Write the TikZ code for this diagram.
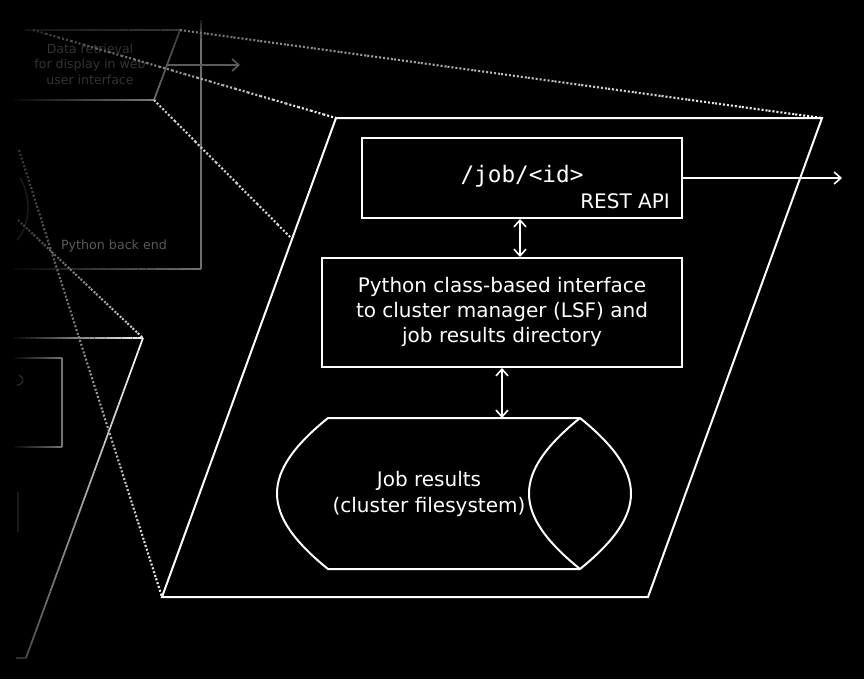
\documentclass[tikz,border=0pt]{standalone}
\usepackage{fontspec}
\setmainfont{DejaVu Sans}
\newfontfamily\monof{DejaVu Sans Mono}
\usetikzlibrary{calc,arrows.meta}

% gradient line: style, from, to, start % white, end % white
\newcommand{\gradline}[5]{%
  \foreach \k in {0,...,23}{%
    \pgfmathsetmacro\ta{\k/24}%
    \pgfmathsetmacro\tb{(\k+1)/24}%
    \pgfmathtruncatemacro\gg{#4+(#5-#4)*(\k+0.5)/24}%
    \draw[#1,draw=white!\gg!black] ($#2!\ta!#3$) -- ($#2!\tb!#3$);
  }}

\tikzset{
  mainline/.style={draw=white, line width=1.5pt},
  boxnode/.style={draw=white, line width=1.5pt, fill=black, text=white, inner sep=0pt},
  dotl/.style={line width=1.6pt, dash pattern=on 1.5pt off 1.5pt},
  faint/.style={line width=1.3pt},
  dblarr/.style={draw=white, line width=1.2pt, {Straight Barb[length=5pt,width=9pt]}-{Straight Barb[length=5pt,width=9pt]}},
  sglarr/.style={draw=white, line width=1.2pt, -{Straight Barb[length=5pt,width=9pt]}},
  txt/.style={text=white, inner sep=0pt, align=center},
}

\begin{document}
\begin{tikzpicture}[x=0.75pt, y=-0.75pt]
\fill[black] (0,0) rectangle (864,679);
\useasboundingbox (0,0) rectangle (864,679);

% ---------- faded previous level (Python back end) ----------
\gradline{faint}{(201,20)}{(201,40)}{10}{43}
\draw[faint, draw=white!43!black] (201,40) -- (201,269);
\gradline{faint}{(14,269)}{(201,269)}{3}{45}
\node[txt, text=white!35!black, font=\fontsize{9.5}{11.6}\selectfont] (pbe) at (114,246) {Python back end};

% small parallelogram with faded text
\gradline{faint}{(25,30)}{(180,30)}{8}{22}
\gradline{faint}{(180,30)}{(154,100)}{25}{45}
\gradline{faint}{(14,100)}{(154,100)}{3}{48}
\node[txt, text=white!20!black, font=\fontsize{9.4}{11.6}\selectfont] (dr) at (90,64) {Data retrieval\\for display in web\\user interface};
\coordinate (sarrs) at (166,65);
\coordinate (sarre) at (240,65);
\draw[line width=1.2pt, draw=white!36!black, -{Straight Barb[length=5pt,width=9pt]}] (sarrs) -- (sarre);

% faint arc (cylinder end of previous level)
\draw[line width=1.2pt, draw=white!10!black] (20,178) .. controls (31,195) and (31,225) .. (17,240);

% left parallelogram (previous level of big one)
\gradline{faint}{(14,338)}{(143,338)}{3}{100}
\gradline{faint}{(143,338)}{(26,658)}{100}{30}
\draw[faint, draw=white!18!black] (16,658) -- (26,658);
% inner small box
\gradline{faint}{(14,358)}{(62,358)}{3}{45}
\draw[faint, draw=white!45!black] (62,358) -- (62,447);
\gradline{faint}{(14,447)}{(62,447)}{3}{45}
\draw[line width=1.2pt, draw=white!14!black] (17,385) arc[start angle=100, end angle=-80, radius=5];
\draw[line width=1.2pt, draw=white!10!black] (18,492) -- (18,532);

% ---------- dotted zoom lines ----------
\gradline{dotl}{(180,30)}{(822,118)}{45}{100}
\gradline{dotl}{(33,30)}{(336,118)}{20}{100}
\gradline{dotl}{(154,100)}{(648,597)}{80}{100}
\gradline{dotl}{(19,150)}{(162,597)}{20}{95}
\gradline{dotl}{(18,220)}{(143,338)}{20}{85}

% ---------- big parallelogram ----------
\coordinate (p1) at (336,118);
\coordinate (p2) at (822,118);
\coordinate (p3) at (648,597);
\coordinate (p4) at (162,597);
\draw[mainline, fill=black, line join=miter] (p1) -- (p2) -- (p3) -- (p4) -- cycle;

% REST API box
\node[boxnode, minimum width=240pt, minimum height=60pt] (rest) at (522,178) {};
\node[txt, font=\monof\fontsize{17}{20}\selectfont] (jobid) at (522,176) {/job/<id>};
\node[txt, anchor=base east, font=\fontsize{15}{18}\selectfont] (restlbl) at (670,208) {REST API};

% Python interface box
\node[boxnode, minimum width=270pt, minimum height=81.75pt] (py) at (502,312.5) {};
\node[txt, font=\fontsize{15}{18.75}\selectfont] (pytxt) at (502,312) {Python class-based interface\\to cluster manager (LSF) and\\job results directory};

% cylinder
\coordinate (ctl) at (328,418);
\coordinate (ctr) at (580,418);
\coordinate (cbr) at (580,569);
\coordinate (cbl) at (328,569);
\draw[mainline, fill=black] (ctl) -- (ctr) .. controls (648,473) and (648,514) .. (cbr) -- (cbl) .. controls (260,514) and (260,473) .. (ctl) -- cycle;
\draw[mainline] (ctr) .. controls (512,473) and (512,514) .. (cbr);
\node[txt, font=\fontsize{15}{19.5}\selectfont] (cyltxt) at (429,494) {Job results\\(cluster filesystem)};
\coordinate (cyltop) at (502,418);

% arrows
\coordinate (ax) at (520,0);
\draw[dblarr] (rest.south -| ax) -- (py.north -| ax);
\draw[dblarr] (py.south) -- (cyltop);
\coordinate (out) at (842,178);
\draw[sglarr] (rest.east) -- (out);

\end{tikzpicture}
\end{document}
